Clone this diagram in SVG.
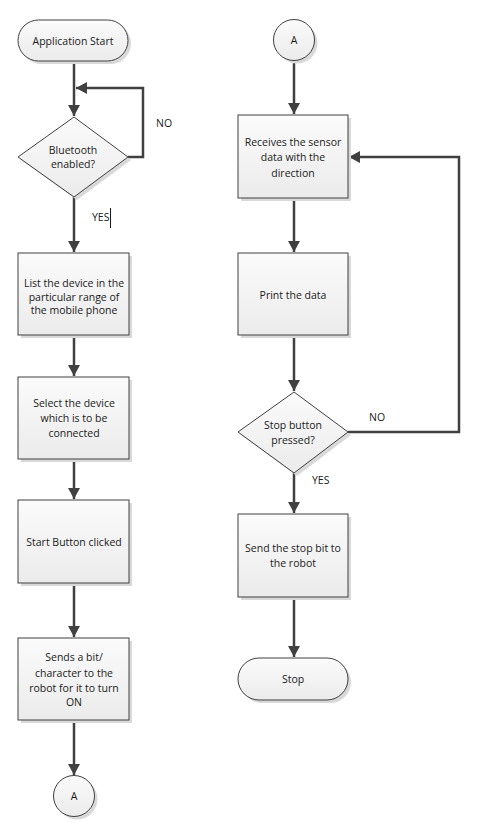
<svg xmlns="http://www.w3.org/2000/svg" width="478" height="832" viewBox="0 0 478 832">
<defs>
<linearGradient id="g" x1="0" y1="0" x2="0" y2="1">
<stop offset="0" stop-color="#fbfbfb"/>
<stop offset="1" stop-color="#ebebeb"/>
</linearGradient>
<marker id="arr" markerUnits="userSpaceOnUse" markerWidth="12" markerHeight="12" viewBox="0 0 12 12" refX="11" refY="6" orient="auto">
<path d="M0,0 L11,6 L0,12 z" fill="#404040"/>
</marker>
</defs>
<style>
.s{fill:url(#g);stroke:#404040;stroke-width:1}
.sh{fill:#d9d9d9;stroke:none}
.t{font-family:"Open Sans","Noto Sans",sans-serif;font-size:10.5px;fill:#1a1a1a;text-anchor:middle}
.l{font-family:"Open Sans","Noto Sans",sans-serif;font-size:10.5px;fill:#1a1a1a}
.c{fill:none;stroke:#404040;stroke-width:2.5}
</style>
<rect width="478" height="832" fill="#ffffff"/>
<g id="connectors">
<line class="c" x1="74" y1="61" x2="74" y2="116" marker-end="url(#arr)"/>
<polyline class="c" points="128,157 143,157 143,88 76,88" marker-end="url(#arr)"/>
<line class="c" x1="74" y1="197" x2="74" y2="252" marker-end="url(#arr)"/>
<line class="c" x1="74" y1="335" x2="74" y2="376" marker-end="url(#arr)"/>
<line class="c" x1="74" y1="459" x2="74" y2="499" marker-end="url(#arr)"/>
<line class="c" x1="74" y1="583" x2="74" y2="637" marker-end="url(#arr)"/>
<line class="c" x1="74" y1="720" x2="74" y2="775" marker-end="url(#arr)"/>
<line class="c" x1="294" y1="61" x2="294" y2="114" marker-end="url(#arr)"/>
<line class="c" x1="294" y1="198" x2="294" y2="252" marker-end="url(#arr)"/>
<line class="c" x1="294" y1="335" x2="294" y2="391" marker-end="url(#arr)"/>
<polyline class="c" points="348,432 459,432 459,157 349,157" marker-end="url(#arr)"/>
<line class="c" x1="294" y1="473" x2="294" y2="513" marker-end="url(#arr)"/>
<line class="c" x1="294" y1="597" x2="294" y2="657" marker-end="url(#arr)"/>
<text class="l" x="156" y="127">NO</text>
<text class="l" x="92" y="221">YES</text>
<line x1="110.5" y1="208" x2="110.5" y2="228" stroke="#1a1a1a" stroke-width="1"/>
<text class="l" x="369" y="421">NO</text>
<text class="l" x="312" y="484">YES</text>
</g>
<g id="start">
<rect class="sh" x="21" y="23" width="110" height="41" rx="20.5"/>
<rect class="s" x="18" y="20" width="110" height="41" rx="20.5"/>
<text class="t" x="73" y="44.5">Application Start</text>
</g>
<g id="bluetooth">
<polygon class="sh" points="77,120 131,160 77,200 21,160"/>
<polygon class="s" points="74,117 128,157 74,197 18,157"/>
<text class="t" x="73" y="154">Bluetooth</text>
<text class="t" x="73" y="168">enabled?</text>
</g>
<g id="list">
<rect class="sh" x="21" y="256" width="111" height="82"/>
<rect class="s" x="18" y="253" width="111" height="82"/>
<text class="t" x="74" y="287">List the device in the</text>
<text class="t" x="74" y="301">particular range of</text>
<text class="t" x="74" y="314">the mobile phone</text>
</g>
<g id="select">
<rect class="sh" x="21" y="380" width="111" height="82"/>
<rect class="s" x="18" y="377" width="111" height="82"/>
<text class="t" x="74" y="407">Select the device</text>
<text class="t" x="74" y="422">which is to be</text>
<text class="t" x="74" y="437">connected</text>
</g>
<g id="startbtn">
<rect class="sh" x="21" y="503" width="111" height="83"/>
<rect class="s" x="18" y="500" width="111" height="83"/>
<text class="t" x="74" y="546">Start Button clicked</text>
</g>
<g id="sendbit">
<rect class="sh" x="21" y="641" width="111" height="82"/>
<rect class="s" x="18" y="638" width="111" height="82"/>
<text class="t" x="74" y="661">Sends a bit/</text>
<text class="t" x="74" y="677">character to the</text>
<text class="t" x="74" y="692">robot for it to turn</text>
<text class="t" x="74" y="706">ON</text>
</g>
<g id="connA1">
<circle class="sh" cx="77" cy="799" r="20.5"/>
<circle class="s" cx="74" cy="796" r="20.5"/>
<text class="t" x="74" y="800">A</text>
</g>
<g id="connA2">
<circle class="sh" cx="297" cy="43" r="20.5"/>
<circle class="s" cx="294" cy="40" r="20.5"/>
<text class="t" x="294" y="44">A</text>
</g>
<g id="receive">
<rect class="sh" x="241" y="118" width="110" height="83"/>
<rect class="s" x="238" y="115" width="110" height="83"/>
<text class="t" x="293" y="146">Receives the sensor</text>
<text class="t" x="293" y="161">data with the</text>
<text class="t" x="293" y="177">direction</text>
</g>
<g id="print">
<rect class="sh" x="241" y="256" width="110" height="82"/>
<rect class="s" x="238" y="253" width="110" height="82"/>
<text class="t" x="293" y="299">Print the data</text>
</g>
<g id="stopq">
<polygon class="sh" points="297,395 351,435 297,476 241,435"/>
<polygon class="s" points="294,392 348,432 294,473 238,432"/>
<text class="t" x="293" y="429">Stop button</text>
<text class="t" x="293" y="444">pressed?</text>
</g>
<g id="sendstop">
<rect class="sh" x="241" y="517" width="110" height="83"/>
<rect class="s" x="238" y="514" width="110" height="83"/>
<text class="t" x="293" y="552">Send the stop bit to</text>
<text class="t" x="293" y="567">the robot</text>
</g>
<g id="stop">
<rect class="sh" x="241" y="661" width="110" height="42" rx="21"/>
<rect class="s" x="238" y="658" width="110" height="42" rx="21"/>
<text class="t" x="293" y="683">Stop</text>
</g>
</svg>
